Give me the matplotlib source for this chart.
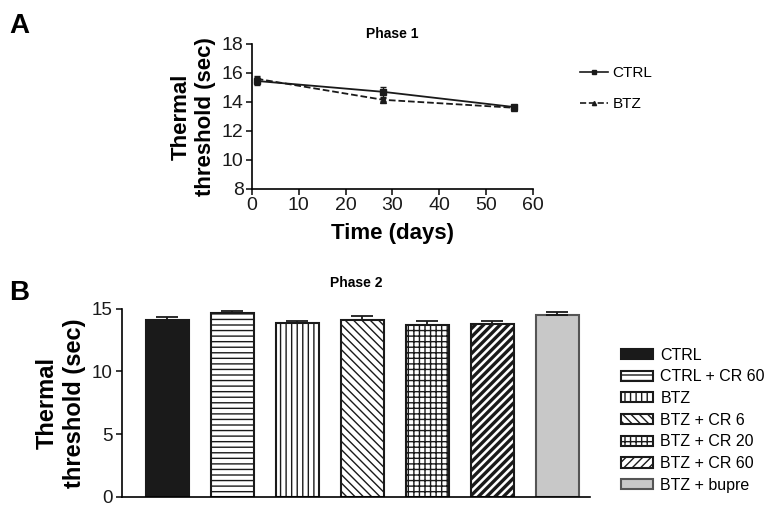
import matplotlib
matplotlib.use("Agg")
import matplotlib.pyplot as plt
from matplotlib.lines import Line2D
import numpy as np

plt.rcParams['font.family'] = ['Liberation Sans', 'DejaVu Sans']
plt.rcParams['hatch.linewidth'] = 1.0

# Phase 1 data
days = [1, 28, 56]
ctrl_mean = [15.45, 14.7, 13.65]
ctrl_err = [0.3, 0.35, 0.12]
btz_mean = [15.6, 14.15, 13.6]
btz_err = [0.2, 0.1, 0.1]

# Phase 2 data
groups = ['CTRL', 'CTRL + CR 60', 'BTZ', 'BTZ + CR 6', 'BTZ + CR 20', 'BTZ + CR 60', 'BTZ + bupre']
means = [14.07, 14.67, 13.86, 14.08, 13.7, 13.79, 14.48]
sems = [0.28, 0.16, 0.13, 0.33, 0.32, 0.23, 0.23]

fig = plt.figure(figsize=(7.72, 5.13), dpi=100)

# ---- panel A
ax1 = fig.add_axes([0.3264, 0.6316, 0.364, 0.2827])
ax1.errorbar(days, ctrl_mean, yerr=ctrl_err, color='#1a1a1a', lw=1.3, marker='s', ms=4,
             capsize=2.5, elinewidth=1)
ax1.errorbar(days, btz_mean, yerr=btz_err, color='#1a1a1a', lw=1.3, ls='--', marker='^', ms=4,
             capsize=2.5, elinewidth=1)
ax1.set_xlim(0, 60)
ax1.set_ylim(8, 18)
ax1.set_xticks(range(0, 61, 10))
ax1.set_yticks(range(8, 19, 2))
for s in ['top', 'right']:
    ax1.spines[s].set_visible(False)
for s in ['left', 'bottom']:
    ax1.spines[s].set_linewidth(1.2)
ax1.tick_params(labelsize=14, width=1.2, length=4, colors='#1a1a1a', pad=2)
ax1.set_xlabel('Time (days)', fontsize=16, fontweight='bold', labelpad=6)
ax1.set_ylabel('Thermal\nthreshold (sec)', fontsize=16, fontweight='bold', labelpad=4)
ax1.set_title('Phase 1', fontsize=10, fontweight='bold', pad=4)
h1 = [Line2D([], [], color='#1a1a1a', lw=1.2, marker='s', ms=3),
      Line2D([], [], color='#1a1a1a', lw=1.2, ls='--', marker='^', ms=3)]
ax1.legend(h1, ['CTRL', 'BTZ'], loc='upper left', bbox_to_anchor=(1.12, 0.94), frameon=False,
           fontsize=11, handlelength=1.8, labelspacing=1.1, handletextpad=0.3)
fig.text(0.012, 0.935, 'A', fontsize=20, fontweight='bold')

# ---- panel B
ax2 = fig.add_axes([0.158, 0.0312, 0.606, 0.367])
x = np.arange(len(groups))
faces = ['#1a1a1a', 'white', 'white', 'white', 'white', 'white', '#c8c8c8']
hatches = [None, '---', '|||', '\\\\\\\\', '+++', '////', None]
edges = ['#1a1a1a'] * 6 + ['#555555']
bars = ax2.bar(x, means, width=0.66, color=faces, edgecolor=edges, linewidth=1.5, label=groups)
for b, h in zip(bars, hatches):
    if h:
        b.set_hatch(h)
if hasattr(bars[5], 'set_hatch_linewidth'):
    bars[5].set_hatch_linewidth(2.4)
ax2.errorbar(x, means, yerr=[np.zeros(len(sems)), sems], fmt='none', ecolor='#1a1a1a',
             elinewidth=1.3, capsize=8, capthick=1.3, clip_on=False)
ax2.set_xlim(-0.7, 6.5)
ax2.set_ylim(0, 15)
ax2.set_yticks([0, 5, 10, 15])
ax2.set_xticks([])
for s in ['top', 'right']:
    ax2.spines[s].set_visible(False)
for s in ['left', 'bottom']:
    ax2.spines[s].set_linewidth(1.2)
ax2.tick_params(labelsize=13.5, width=1.2, length=4, colors='#1a1a1a', pad=3)
ax2.set_ylabel('Thermal\nthreshold (sec)', fontsize=17, fontweight='bold', labelpad=4)
ax2.set_title('Phase 2', fontsize=10, fontweight='bold', pad=16)
ax2.legend(bars, groups, loc='upper left', bbox_to_anchor=(1.035, 0.87), frameon=False,
           fontsize=11.5, handlelength=2.0, handleheight=0.6, labelspacing=0.42,
           handletextpad=0.5)
fig.text(0.012, 0.415, 'B', fontsize=20, fontweight='bold')

fig.savefig('out.png', dpi=100)
